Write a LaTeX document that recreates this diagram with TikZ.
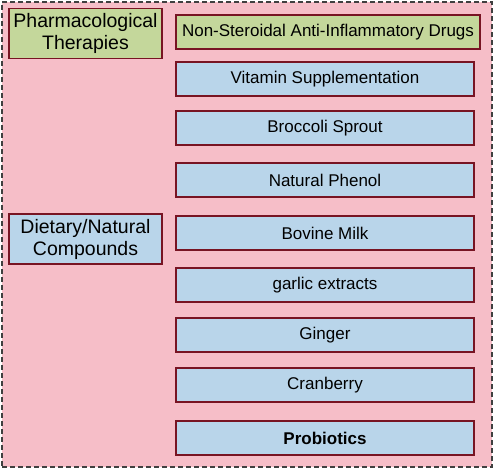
\documentclass[tikz,border=0pt]{standalone}
\usepackage{fontspec}
\setmainfont{Liberation Sans}
\definecolor{bgpink}{RGB}{246,190,200}
\definecolor{boxgreen}{RGB}{196,215,155}
\definecolor{boxblue}{RGB}{185,213,234}
\definecolor{boxline}{RGB}{120,20,35}

\begin{document}
\begin{tikzpicture}[x=1pt,y=-1pt,
    catbox/.style={draw=boxline, line width=1.8pt, rectangle, minimum width=153pt, minimum height=50pt, align=center, font=\fontsize{19.5}{22}\selectfont, inner sep=1pt},
    itembox/.style={draw=boxline, line width=1.8pt, rectangle, fill=boxblue, minimum width=298pt, minimum height=34pt, font=\fontsize{17}{19}\selectfont, inner sep=1pt}]
      \useasboundingbox (0,0) rectangle (498,469);
      % Background
      \node[draw=black!75, dash pattern=on 5pt off 3pt, line width=1.5pt, fill=bgpink, minimum width=490pt, minimum height=465pt, inner sep=0pt] (frame) at (247,234.5) {};

      % Categories
      \node[catbox, fill=boxgreen] (pharma) at (85.5,33.5) {Pharmacological\\Therapies};
      \node[catbox, fill=boxblue] (dietary) at (85.5,239) {Dietary/Natural\\Compounds};

      % Pharmacological
      \node[itembox, fill=boxgreen, minimum width=304pt] (nsaid) at (328,32) {Non-Steroidal Anti-Inflammatory Drugs};

      % Dietary/Natural
      \node[itembox] (vitamin) at (325,79) {Vitamin Supplementation};
      \node[itembox] (broccoli) at (325,128) {Broccoli Sprout};
      \node[itembox] (phenol) at (325,180) {Natural Phenol};
      \node[itembox] (milk) at (325,233) {Bovine Milk};
      \node[itembox] (garlic) at (325,285) {garlic extracts};
      \node[itembox] (ginger) at (325,335) {Ginger};
      \node[itembox] (cranberry) at (325,385) {Cranberry};
      \node[itembox, font=\fontsize{17}{19}\selectfont\bfseries] (probiotics) at (325,438) {Probiotics};
    \end{tikzpicture}
\end{document}
